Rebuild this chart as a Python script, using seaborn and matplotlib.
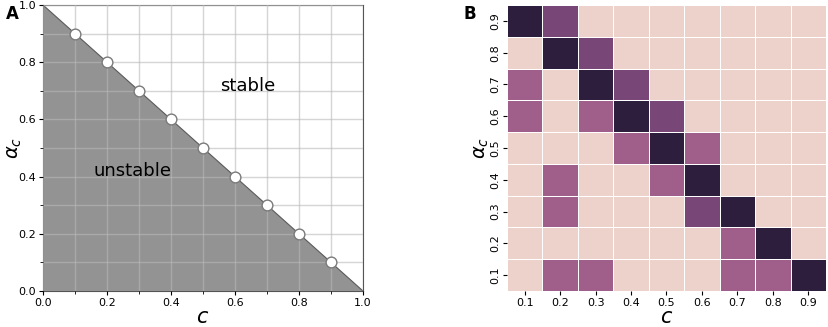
import numpy as np
import pandas as pd
import seaborn as sns
import matplotlib.pyplot as plt
from matplotlib.ticker import MultipleLocator

# panel A: stability boundary alpha_c = 1 - c
c_points = [0.1, 0.2, 0.3, 0.4, 0.5, 0.6, 0.7, 0.8, 0.9]
alpha_points = [0.9, 0.8, 0.7, 0.6, 0.5, 0.4, 0.3, 0.2, 0.1]
edge_c = [0.0, 1.0]
edge_alpha = [1.0, 0.0]

# panel B: heatmap, rows alpha_c from 0.9 down to 0.1, columns c from 0.1 to 0.9
c_labels = ["0.1", "0.2", "0.3", "0.4", "0.5", "0.6", "0.7", "0.8", "0.9"]
alpha_labels = ["0.9", "0.8", "0.7", "0.6", "0.5", "0.4", "0.3", "0.2", "0.1"]
row_09 = [1.0, 0.7, 0, 0, 0, 0, 0, 0, 0]
row_08 = [0, 1.0, 0.7, 0, 0, 0, 0, 0, 0]
row_07 = [0.55, 0, 1.0, 0.7, 0, 0, 0, 0, 0]
row_06 = [0.55, 0, 0.55, 1.0, 0.7, 0, 0, 0, 0]
row_05 = [0, 0, 0, 0.55, 1.0, 0.55, 0, 0, 0]
row_04 = [0, 0.55, 0, 0, 0.55, 1.0, 0, 0, 0]
row_03 = [0, 0.55, 0, 0, 0, 0.7, 1.0, 0, 0]
row_02 = [0, 0, 0, 0, 0, 0, 0.55, 1.0, 0]
row_01 = [0, 0.55, 0.55, 0, 0, 0, 0.55, 0.55, 1.0]

fig = plt.figure(figsize=(8.29, 3.27), dpi=100)
ax1 = fig.add_axes([43/829, 36/327, 320/829, 286/327])
ax2 = fig.add_axes([507/829, 36/327, 319/829, 286/327])

# ---- A ----
ax1.fill_between(edge_c, edge_alpha, 0, color="#939393", lw=0, zorder=1)
ax1.plot(edge_c, edge_alpha, color="#5a5a5a", lw=0.8, zorder=2)
ax1.grid(True, which="both", color="#b9b9b9", alpha=0.6, lw=1, zorder=3)
ax1.set_axisbelow(False)
sns.scatterplot(x=c_points, y=alpha_points, ax=ax1, s=60, color="white",
                edgecolor="#7a7a7a", linewidth=1, zorder=4)
ax1.set_xlim(0, 1)
ax1.set_ylim(0, 1)
ax1.xaxis.set_major_locator(MultipleLocator(0.2))
ax1.yaxis.set_major_locator(MultipleLocator(0.2))
ax1.xaxis.set_minor_locator(MultipleLocator(0.1))
ax1.yaxis.set_minor_locator(MultipleLocator(0.1))
ax1.tick_params(labelsize=8, length=3, pad=2)
ax1.tick_params(which="minor", length=2)
for sp in ax1.spines.values():
    sp.set_color("#555555")
ax1.text(0.64, 0.717, "stable", fontsize=13, ha="center", va="center", zorder=5)
ax1.text(0.28, 0.42, "unstable", fontsize=13, ha="center", va="center", zorder=5)
ax1.set_xlabel("$c$", fontsize=15)
ax1.set_ylabel(r"$\alpha_c$", fontsize=14)
ax1.xaxis.set_label_coords(0.5, -0.055)
ax1.yaxis.set_label_coords(-0.06, 0.5)

# ---- B ----
grid = pd.DataFrame([row_09, row_08, row_07, row_06, row_05, row_04, row_03, row_02, row_01],
                    index=alpha_labels, columns=c_labels)
sns.heatmap(grid, ax=ax2, cmap=sns.cubehelix_palette(as_cmap=True), vmin=0, vmax=1,
            cbar=False, linewidths=0.5, linecolor="white")
ax2.tick_params(labelsize=8, length=3, pad=2)
plt.setp(ax2.get_yticklabels(), rotation=90, va="center")
ax2.set_xlabel("$c$", fontsize=15)
ax2.set_ylabel(r"$\alpha_c$", fontsize=14)
ax2.xaxis.set_label_coords(0.5, -0.055)
ax2.yaxis.set_label_coords(-0.05, 0.5)

fig.text(12/829, 1 - 14/327, "A", fontsize=12, weight="bold", ha="center", va="center")
fig.text(470/829, 1 - 14/327, "B", fontsize=12, weight="bold", ha="center", va="center")

fig.savefig("out.png", dpi=100)
